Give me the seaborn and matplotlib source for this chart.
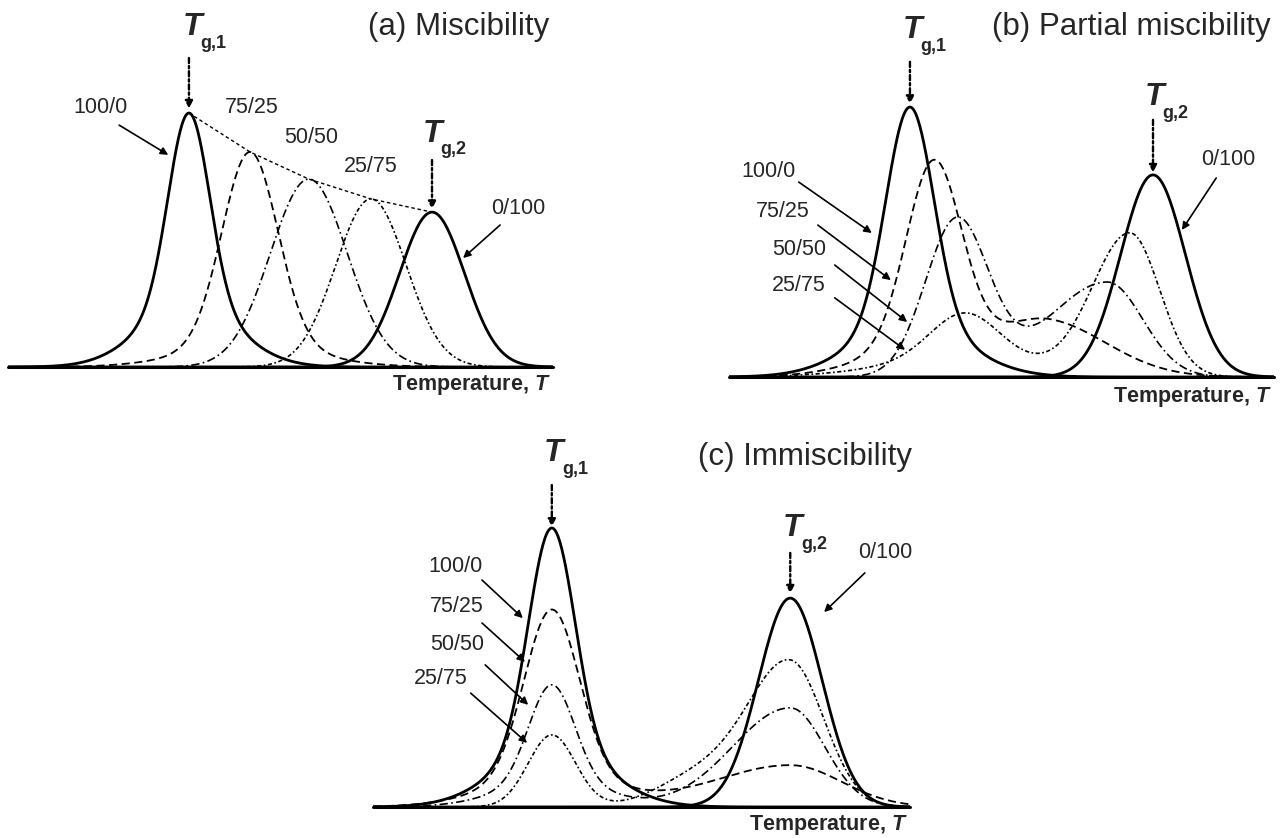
import numpy as np
import pandas as pd
import matplotlib
matplotlib.use("Agg")
import matplotlib.pyplot as plt
import seaborn as sns

# ---- data: peak components (T axis 0-100, signal 0-100) ----
blends = ["100/0", "75/25", "50/50", "25/75", "0/100"]

# (a) miscibility: one peak per blend
a_blend = ["100/0", "75/25", "50/50", "25/75", "0/100"]
a_center = [33.2, 44.4, 55.2, 66.6, 77.8]
a_height = [69.2, 58.6, 51.2, 45.8, 42.2]
a_hw_left = [4.4, 6.0, 8.3, 7.6, 7.0]
a_hw_right = [4.4, 6.0, 8.3, 7.6, 7.0]
a_tail = [0.25, 0.1, 0.0, 0.0, 0.0]

# (b) partial miscibility: two shifted peaks
b_blend = ["100/0", "75/25", "75/25", "50/50", "50/50", "25/75", "25/75", "0/100"]
b_center = [33.2, 37.6, 58.9, 41.8, 69.4, 43.3, 73.6, 77.8]
b_height = [71.6, 57.0, 13.8, 41.4, 25.2, 17.0, 37.7, 53.6]
b_hw_left = [5.1, 5.9, 10.1, 6.8, 12.8, 7.3, 8.1, 7.0]
b_hw_right = [5.1, 5.9, 12.8, 6.8, 7.7, 7.3, 6.4, 7.0]
b_tail = [0.2, 0.15, 0.0, 0.0, 0.0, 0.3, 0.0, 0.0]

# (c) immiscibility: peaks stay at the pure-component positions
c_blend = ["100/0", "75/25", "75/25", "50/50", "50/50",
           "25/75", "25/75", "25/75", "0/100"]
c_center = [33.3, 33.3, 77.7, 33.3, 77.7, 33.3, 77.7, 60.9, 77.7]
c_height = [74.0, 52.3, 11.1, 32.4, 26.3, 19.1, 38.2, 8.0, 55.4]
c_hw_left = [5.0, 6.0, 16.8, 5.0, 12.7, 5.2, 9.3, 9.3, 7.0]
c_hw_right = [5.0, 6.0, 11.2, 5.0, 7.6, 5.2, 7.4, 9.3, 7.0]
c_tail = [0.22, 0.15, 0.0, 0.2, 0.0, 0.0, 0.0, 0.0, 0.0]


def peak(x, c, h, wl, wr, tail):
    # asymmetric gaussian with a broader gaussian foot
    w = np.where(x < c, wl, wr)
    core = np.exp(-np.log(2) * ((x - c) / w) ** 2)
    foot = np.exp(-np.log(2) * ((x - c) / (2.3 * w)) ** 2)
    return h * ((1 - tail) * core + tail * foot)


def curves(blend, center, height, wl, wr, tail):
    x = np.linspace(0, 100, 900)
    rows = []
    for b in blends:
        y = np.zeros_like(x)
        for i, name in enumerate(blend):
            if name == b:
                y += peak(x, center[i], height[i], wl[i], wr[i], tail[i])
        rows.append(pd.DataFrame({"T": x, "signal": y, "blend": b}))
    return pd.concat(rows, ignore_index=True)


sns.set_theme(style="white")
plt.rcParams["font.family"] = ["Liberation Sans", "DejaVu Sans"]
plt.rcParams["mathtext.fontset"] = "custom"
plt.rcParams["mathtext.rm"] = "Liberation Sans:bold"
plt.rcParams["mathtext.it"] = "Liberation Sans:italic:bold"

line_dashes = {"100/0": "", "75/25": (4.5, 2.5), "50/50": (5, 2, 1, 2),
               "25/75": (2.5, 1.5, 1, 1.5), "0/100": ""}
line_sizes = {"100/0": 2.0, "75/25": 1.3, "50/50": 1.2, "25/75": 1.2, "0/100": 2.0}

W, H = 1286, 838
fig = plt.figure(figsize=(W / 100, H / 100), dpi=100)


def make_ax(left, right, base, top):
    ax = fig.add_axes([left / W, 1 - base / H, (right - left) / W, (base - top) / H])
    ax.set_xlim(0, 100)
    ax.set_ylim(0, 100)
    ax.set_axis_off()
    ax.axhline(0, color="black", lw=2.2, clip_on=False)
    return ax


def draw(ax, df):
    sns.lineplot(data=df, x="T", y="signal", style="blend", size="blend",
                 dashes=line_dashes, sizes=line_sizes, color="black",
                 estimator=None, sort=True, legend=False, ax=ax)


def arrow(ax, tail, tip):
    ax.annotate("", xy=tip, xytext=tail, annotation_clip=False,
                arrowprops=dict(arrowstyle="-|>", color="black", lw=1.2,
                                mutation_scale=11, shrinkA=0, shrinkB=0))


def tg_arrow(ax, x, y0, y1):
    ax.annotate("", xy=(x, y1), xytext=(x, y0), annotation_clip=False,
                arrowprops=dict(arrowstyle="-|>", color="black", lw=1.7,
                                linestyle=(0, (2.2, 1.2, 1, 1.2)),
                                mutation_scale=11, shrinkA=0, shrinkB=0))


def tg_label(ax, x, y, sub):
    ax.text(x, y, "T", style="italic", fontweight="bold", fontsize=23,
            ha="center", va="center")
    ax.text(x + 3.9, y - 4.4, sub, fontsize=13, fontweight="bold",
            ha="center", va="center")


def label(ax, x, y, s):
    ax.text(x, y, s, fontsize=15.5, ha="center", va="center")


def title(ax, x, y, s):
    ax.text(x, y, s, fontsize=22.5, ha="right", va="center")


def temp_label(ax, y):
    ax.text(99.6, y, r"Temperature, $\mathit{T}$", fontsize=15.5,
            fontweight="bold", ha="right", va="center")


# ---- (a) ----
ax_a = make_ax(8, 553, 367, 0)
draw(ax_a, curves(a_blend, a_center, a_height, a_hw_left, a_hw_right, a_tail))
sns.lineplot(x=a_center, y=a_height, color="black", lw=1.0,
             ax=ax_a, legend=False).lines[-1].set_linestyle((0, (2.5, 2)))
title(ax_a, 99.3, 92.6, "(a) Miscibility")
tg_label(ax_a, 33.8, 92.6, "g,1")
tg_arrow(ax_a, 33.2, 84.2, 70.4)
tg_label(ax_a, 77.8, 63.6, "g,2")
tg_arrow(ax_a, 77.8, 56.4, 43.0)
label(ax_a, 16.9, 70.8, "100/0")
arrow(ax_a, (20.4, 65.9), (29.4, 57.8))
label(ax_a, 44.8, 70.8, "75/25")
label(ax_a, 55.6, 62.4, "50/50")
label(ax_a, 66.6, 54.5, "25/75")
label(ax_a, 93.6, 43.3, "0/100")
arrow(ax_a, (90.3, 38.7), (83.5, 29.7))
temp_label(ax_a, -4.9)

# ---- (b) ----
ax_b = make_ax(729, 1274, 377, 0)
draw(ax_b, curves(b_blend, b_center, b_height, b_hw_left, b_hw_right, b_tail))
title(ax_b, 99.4, 92.8, "(b) Partial miscibility")
tg_label(ax_b, 33.6, 92.0, "g,1")
tg_arrow(ax_b, 33.2, 83.6, 72.4)
tg_label(ax_b, 78.0, 74.3, "g,2")
tg_arrow(ax_b, 77.8, 68.2, 54.2)
label(ax_b, 7.2, 54.4, "100/0")
arrow(ax_b, (12.8, 51.7), (26.2, 38.2))
label(ax_b, 9.9, 43.8, "75/25")
arrow(ax_b, (16.3, 40.3), (29.7, 25.7))
label(ax_b, 12.8, 33.7, "50/50")
arrow(ax_b, (19.4, 29.7), (32.7, 14.6))
label(ax_b, 12.8, 24.4, "25/75")
arrow(ax_b, (19.4, 21.0), (32.3, 7.2))
label(ax_b, 91.6, 57.6, "0/100")
arrow(ax_b, (89.4, 52.8), (83.1, 39.0))
temp_label(ax_b, -5.3)

# ---- (c) ----
ax_c = make_ax(373, 910, 807, 430)
draw(ax_c, curves(c_blend, c_center, c_height, c_hw_left, c_hw_right, c_tail))
title(ax_c, 100.4, 92.8, "(c) Immiscibility")
tg_label(ax_c, 33.7, 93.9, "g,1")
tg_arrow(ax_c, 33.3, 85.4, 74.3)
tg_label(ax_c, 78.2, 74.0, "g,2")
tg_arrow(ax_c, 77.7, 67.4, 56.6)
label(ax_c, 15.3, 63.7, "100/0")
arrow(ax_c, (20.3, 60.2), (27.9, 50.1))
label(ax_c, 15.6, 53.1, "75/25")
arrow(ax_c, (20.3, 48.8), (28.3, 38.5))
label(ax_c, 15.6, 43.0, "50/50")
arrow(ax_c, (20.9, 37.7), (28.9, 27.1))
label(ax_c, 12.7, 34.2, "25/75")
arrow(ax_c, (18.2, 30.2), (28.7, 17.0))
label(ax_c, 95.3, 67.4, "0/100")
arrow(ax_c, (91.6, 62.1), (84.0, 51.7))
temp_label(ax_c, -4.8)

fig.savefig("out.png", dpi=100)
